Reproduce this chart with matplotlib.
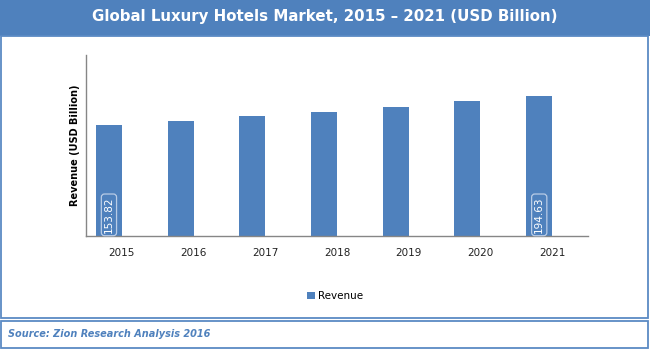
import matplotlib.pyplot as plt
from matplotlib.patches import Rectangle

years = ["2015", "2016", "2017", "2018", "2019", "2020", "2021"]
revenue = [153.82, 160.1, 167.0, 172.6, 179.5, 187.7, 194.63]
labelled_years = ["2015", "2021"]

BLUE = "#4f81bd"
W, H = 650, 350


def px_rect(fig, x0, y0, x1, y1, **kw):
    # rectangle given in pixel coords measured from the top-left corner
    fig.patches.append(Rectangle((x0 / W, 1 - y1 / H), (x1 - x0) / W, (y1 - y0) / H,
                                 transform=fig.transFigure, figure=fig, **kw))


fig = plt.figure(figsize=(6.5, 3.5), dpi=100)

# header banner and frames
px_rect(fig, 0, 0, W, 36, facecolor=BLUE, edgecolor="none")
px_rect(fig, 1, 36, 648, 318, facecolor="none", edgecolor="#5b8ac4", linewidth=1.3)
px_rect(fig, 1, 321, 648, 348, facecolor="none", edgecolor="#5b8ac4", linewidth=1.3)

fig.text(0.5, 1 - 17 / H, "Global Luxury Hotels Market, 2015 \u2013 2021 (USD Billion)",
         color="white", fontsize=10.8, fontweight="bold", ha="center", va="center")
fig.text(8 / W, 1 - 334 / H, "Source: Zion Research Analysis 2016",
         color=BLUE, fontsize=7, fontweight="bold", style="italic", ha="left", va="center")

ax = fig.add_axes([86 / W, 1 - 236 / H, (588 - 86) / W, (236 - 55) / H])

x = list(range(len(years)))
bars = ax.bar(x, revenue, width=-0.363, align="edge", color=BLUE, label="Revenue")

for i, (yr, val) in enumerate(zip(years, revenue)):
    if yr in labelled_years:
        ax.text(i - 0.18, 4, f"{val:.2f}", rotation=90, color="white", fontsize=7.5,
                ha="center", va="bottom",
                bbox=dict(boxstyle="round,pad=0.25,rounding_size=0.3", facecolor=BLUE,
                          edgecolor="#b9cce6", linewidth=0.9))

ax.set_xlim(-0.5, 6.5)
ax.set_ylim(0, 251)
ax.set_xticks(x)
ax.set_xticklabels(years, fontsize=7.5, color="#222222")
ax.set_yticks([])
ax.tick_params(axis="x", length=0, pad=9)
ax.set_ylabel("Revenue (USD Billion)", fontsize=7, fontweight="bold", labelpad=4)

for side in ["top", "right"]:
    ax.spines[side].set_visible(False)
for side in ["left", "bottom"]:
    ax.spines[side].set_color("#868686")
    ax.spines[side].set_linewidth(1)

fig.legend(handles=[bars], labels=["Revenue"], loc="center", bbox_to_anchor=(335 / W, 1 - 296 / H),
           frameon=False, fontsize=7.5, handlelength=0.7, handleheight=0.7, handletextpad=0.3)

plt.savefig("out.png", dpi=100)
plt.close()
